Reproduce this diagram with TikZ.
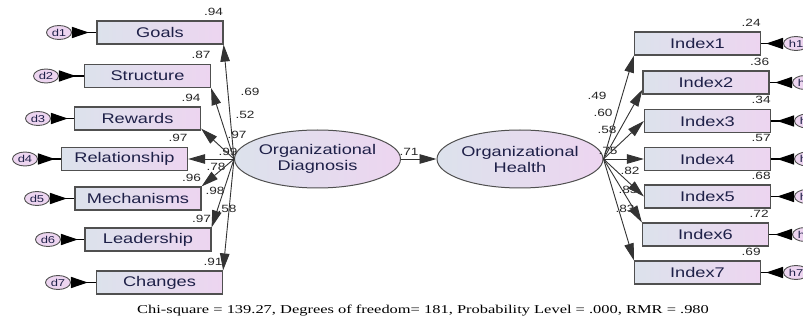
\documentclass[tikz,border=0pt]{standalone}
\usepackage{fontspec}
\setmainfont{Liberation Sans}
\newfontfamily\widesans[FakeStretch=1.3]{Liberation Sans}
\newfontfamily\wideserif[FakeStretch=1.37]{Liberation Serif}
\usetikzlibrary{shapes.geometric,arrows.meta}
\definecolor{boxleft}{HTML}{DCE2EC}
\definecolor{boxright}{HTML}{EDD5F0}
\definecolor{edgegrey}{HTML}{505050}
\definecolor{labelink}{HTML}{1E2048}
\tikzset{
  obsbox/.style={draw=edgegrey, line width=1.2pt, left color=boxleft, right color=boxright,
    minimum width=126pt, minimum height=23pt, inner sep=0pt,
    font=\widesans\fontsize{14}{16}\selectfont, text=labelink},
  latent/.style={ellipse, draw=edgegrey, line width=1pt, left color=boxleft, right color=boxright,
    inner sep=0pt, align=center,
    font=\widesans\fontsize{14}{16}\selectfont, text=labelink},
  errnode/.style={ellipse, draw=edgegrey, line width=0.9pt, fill=boxright,
    minimum width=25pt, minimum height=14pt, inner sep=0pt,
    font=\widesans\fontsize{10}{12}\selectfont, text=labelink},
  coef/.style={inner sep=0pt, font=\widesans\fontsize{10.5}{12}\selectfont, text=black!85},
  path/.style={draw=black!80, line width=0.9pt, -{Triangle[length=17pt,width=9.5pt]}},
  errpath/.style={draw=black, line width=1.4pt, {Triangle[reversed,length=17pt,width=11pt]}-}
}
\begin{document}
\begin{tikzpicture}[x=1pt,y=-1pt]
\useasboundingbox (0,0) rectangle (803,323);

% latent variables
\node[latent, minimum width=141pt, minimum height=58pt] (OD) at (317.5,159) {Organizational\\Diagnosis};
\node[latent, minimum width=134pt, minimum height=58pt] (OH) at (520,159) {Organizational\\Health};

% observed indicators of Organizational Diagnosis
\node[obsbox] (Goals) at (160,32.5) {Goals};
\node[obsbox] (Structure) at (147.5,76) {Structure};
\node[obsbox] (Rewards) at (137.5,118.5) {Rewards};
\node[obsbox] (Relationship) at (124.5,159) {Relationship};
\node[obsbox] (Mechanisms) at (138,198.5) {Mechanisms};
\node[obsbox] (Leadership) at (148,239.5) {Leadership};
\node[obsbox] (Changes) at (159.5,282.5) {Changes};

% observed indicators of Organizational Health
\node[obsbox] (Index1) at (697.5,43.5) {Index1};
\node[obsbox] (Index2) at (706,82.5) {Index2};
\node[obsbox] (Index3) at (707.5,121) {Index3};
\node[obsbox] (Index4) at (707.5,159) {Index4};
\node[obsbox] (Index5) at (707.5,196.5) {Index5};
\node[obsbox] (Index6) at (705.5,234.5) {Index6};
\node[obsbox] (Index7) at (697.5,272.5) {Index7};

% error terms
\node[errnode] (d1) at (59,32.5) {d1};
\node[errnode] (d2) at (46,76) {d2};
\node[errnode] (d3) at (38,118.5) {d3};
\node[errnode] (d4) at (25,159) {d4};
\node[errnode] (d5) at (37,198.5) {d5};
\node[errnode] (d6) at (48,239.5) {d6};
\node[errnode] (d7) at (58,282.5) {d7};
\node[errnode] (h1) at (796,43.5) {h1};
\node[errnode] (h2) at (805,82.5) {h2};
\node[errnode] (h3) at (807,121) {h3};
\node[errnode] (h4) at (807,159) {h4};
\node[errnode] (h5) at (807,196.5) {h5};
\node[errnode] (h6) at (805,234.5) {h6};
\node[errnode] (h7) at (796,272.5) {h7};

\foreach \e/\b in {d1/Goals,d2/Structure,d3/Rewards,d4/Relationship,d5/Mechanisms,d6/Leadership,d7/Changes,
                   h1/Index1,h2/Index2,h3/Index3,h4/Index4,h5/Index5,h6/Index6,h7/Index7}
  \draw[errpath] (\e) -- (\b);

% squared multiple correlations
\foreach \b/\v in {Goals/.94,Structure/.87,Rewards/.94,Relationship/.97,Mechanisms/.96,Leadership/.97,Changes/.91,
                   Index1/.24,Index2/.36,Index3/.34,Index4/.57,Index5/.68,Index6/.72,Index7/.69}
  \node[coef] at ([xshift=-10pt,yshift=9pt]\b.north east) {\v};

% loading labels
\node[coef] at (250,92) {.69};
\node[coef] at (245,115) {.52};
\node[coef] at (237,135) {.97};
\node[coef] at (228,152) {.99};
\node[coef] at (216,167) {.78};
\node[coef] at (215,191) {.98};
\node[coef] at (227,209) {.58};
\node[coef] at (409,152) {.71};
\node[coef] at (597,96) {.49};
\node[coef] at (603,113) {.60};
\node[coef] at (607,130) {.58};
\node[coef] at (608,151) {.75};
\node[coef] at (630,171) {.82};
\node[coef] at (628,190) {.85};
\node[coef] at (625,209) {.83};

% structural paths
\draw[path] (OD.west) -- (Goals.south east);
\draw[path] (OD.west) -- (Structure.south east);
\draw[path] (OD.west) -- ([yshift=2pt]Rewards.south east);
\draw[path] (OD.west) -- (Relationship.east);
\draw[path] (OD.west) -- (Mechanisms.north east);
\draw[path] (OD.west) -- (Leadership.north east);
\draw[path] (OD.west) -- (Changes.north east);
\draw[path] (OD) -- (OH);
\draw[path] (OH.east) -- (Index1.south west);
\draw[path] (OH.east) -- ([yshift=5pt]Index2.south west);
\draw[path] (OH.east) -- (Index3.west);
\draw[path] (OH.east) -- (Index4.west);
\draw[path] (OH.east) -- (Index5.west);
\draw[path] (OH.east) -- (Index6.north west);
\draw[path] (OH.east) -- (Index7.north west);

% fit statistics
\node[inner sep=0pt, font=\wideserif\fontsize{12}{14}\selectfont] (fit) at (423,311)
  {Chi-square = 139.27, Degrees of freedom= 181, Probability Level = .000, RMR = .980};
\end{tikzpicture}
\end{document}
